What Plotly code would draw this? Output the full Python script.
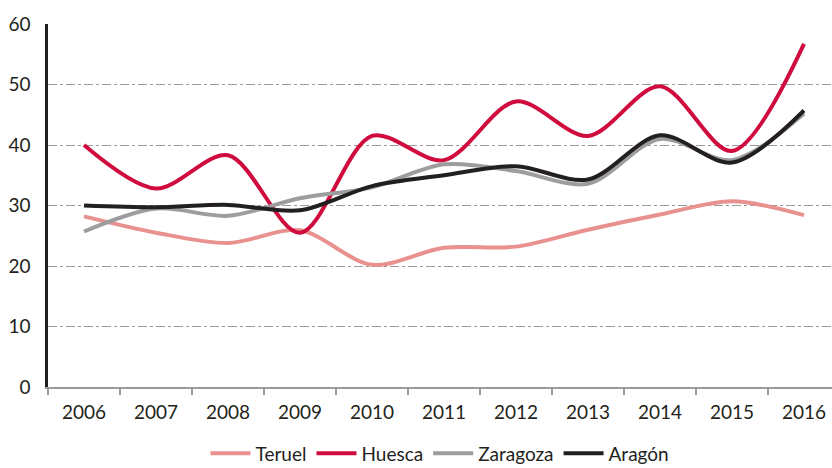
import plotly.graph_objects as go

years = ["2006", "2007", "2008", "2009", "2010", "2011", "2012", "2013", "2014", "2015", "2016"]
teruel = [28.2, 25.5, 23.8, 25.9, 20.2, 23.0, 23.2, 26.0, 28.5, 30.7, 28.4]
huesca = [40.0, 32.8, 38.3, 25.5, 41.5, 37.5, 47.2, 41.5, 49.7, 39.0, 56.7]
zaragoza = [25.7, 29.5, 28.3, 31.2, 33.0, 36.8, 35.7, 33.6, 41.0, 37.5, 45.2]
aragon = [30.0, 29.7, 30.1, 29.2, 33.2, 35.0, 36.5, 34.3, 41.6, 37.1, 45.7]
yticks = [0, 10, 20, 30, 40, 50, 60]

series = [
    ("Teruel", teruel, "#e8918e"),
    ("Huesca", huesca, "#d00c3f"),
    ("Zaragoza", zaragoza, "#9d9d9f"),
    ("Aragón", aragon, "#231f20"),
]

fig = go.Figure()
for name, vals, col in series:
    fig.add_trace(go.Scatter(x=years, y=vals, name=name, mode="lines",
                             line=dict(color=col, width=4, shape="spline", smoothing=0.9)))

font = dict(family="Lato, Noto Sans, sans-serif", size=19, color="#231f20")
fig.update_layout(
    width=832, height=468,
    margin=dict(l=48, r=0, t=24, b=81),
    paper_bgcolor="white", plot_bgcolor="white",
    font=font,
    showlegend=True,
    legend=dict(orientation="h", x=0.5, xanchor="center", xref="paper",
                y=0.072, yanchor="top", yref="container",
                font=dict(size=19), itemwidth=40, tracegroupgap=0),
    xaxis=dict(type="category", range=[-0.5, 10.389], showgrid=False, automargin=False,
               showline=True, linecolor="#999999", linewidth=1.5,
               ticks="outside", tickson="boundaries", ticklen=6, tickcolor="#999999",
               tickwidth=1.5, zeroline=False, ticklabelstandoff=7),
    yaxis=dict(range=[0, 60], tickvals=yticks, showgrid=True, gridcolor="#9a9a9a",
               griddash="dashdot", gridwidth=1.2, showline=True, linecolor="#231f20",
               linewidth=2.5, zeroline=False, ticks="outside", ticklen=11, automargin=False,
               tickcolor="rgba(0,0,0,0)"),
)
fig.write_html("out.html", config={"displayModeBar": False},
               post_script="document.body.style.margin='0';document.body.style.overflow='hidden';")
